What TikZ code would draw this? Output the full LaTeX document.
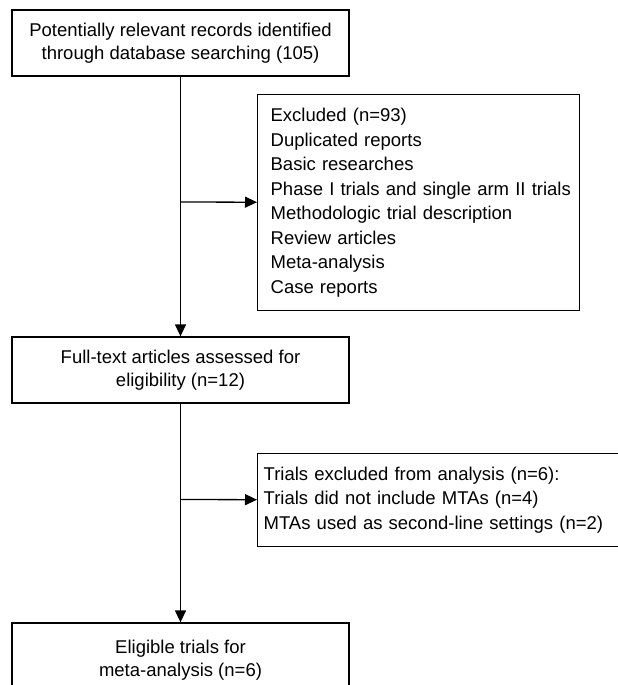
\documentclass[tikz,border=0pt]{standalone}
\usepackage{fontspec}
\setmainfont{Liberation Sans}
\usetikzlibrary{arrows.meta}
\begin{document}
\begin{tikzpicture}[x=1pt,y=-1pt,
  box/.style={draw, line width=1.3pt, inner sep=0pt, font=\fontsize{18.5}{22.7}\selectfont},
  cbox/.style={box, align=center, minimum width=337, minimum height=66},
  lbox/.style={box, align=left, font=\fontsize{18.5}{24.5}\selectfont},
  arr/.style={line width=1.3pt, -{Triangle[length=12pt,width=11pt]}}]
\useasboundingbox (0,0) rectangle (618,685);
\fill[white] (0,0) rectangle (618,685);
\clip (0,0) rectangle (618,685);

\node[cbox] (b1) at (180.5,43) {Potentially relevant records identified\\through database searching (105)};
\node[lbox, text width=296, inner xsep=13, minimum height=216, anchor=north west] (b2) at (257,94)
  {Excluded (n=93)\\Duplicated reports\\Basic researches\\\mbox{Phase I trials and single arm II trials}\\Methodologic trial description\\Review articles\\Meta-analysis\\Case reports};
\node[cbox] (b3) at (180.5,370) {Full-text articles assessed for\\eligibility (n=12)};
\node[lbox, text width=358, inner xsep=6, minimum height=93, anchor=north west] (b4) at (257,453)
  {Trials excluded from analysis (n=6):\\Trials did not include MTAs (n=4)\\\mbox{MTAs used as second-line settings (n=2)}};
\node[cbox, minimum height=74] (b5) at (180.5,660) {Eligible trials for\\meta-analysis (n=6)};

\coordinate (j1) at (180.5,202);
\coordinate (j2) at (180.5,499.5);
\draw[arr] (b1) -- (b3);
\draw[arr] (j1) -- (b2);
\draw[arr] (b3) -- (b5);
\draw[arr] (j2) -- (b4);
\end{tikzpicture}
\end{document}
